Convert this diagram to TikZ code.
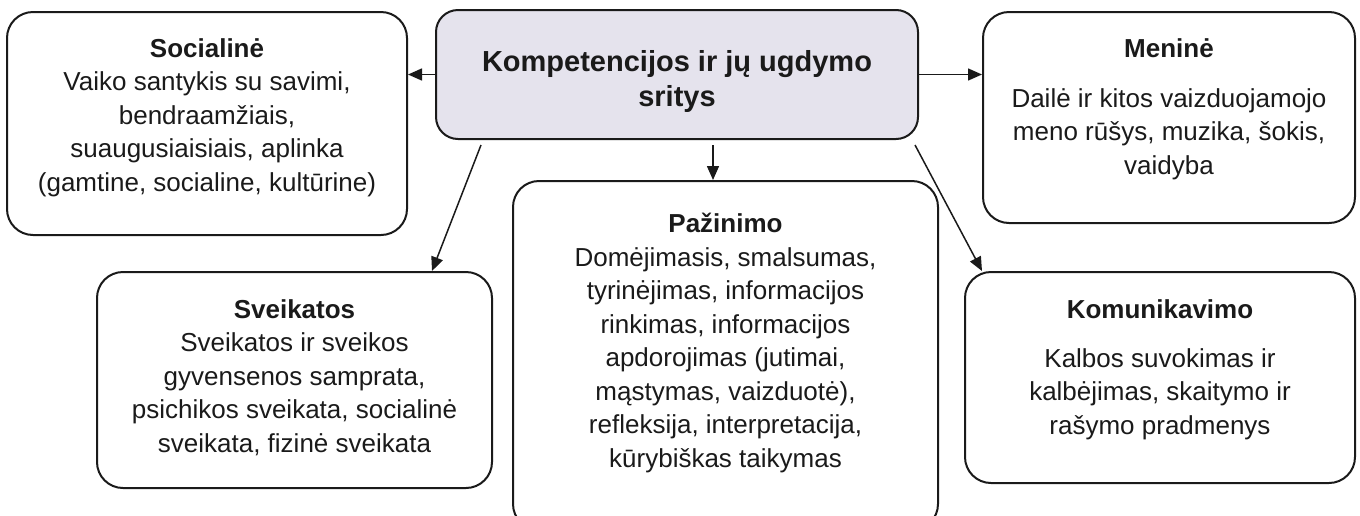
\documentclass[tikz,border=0pt]{standalone}
\usepackage{fontspec}
\setmainfont{Liberation Sans}
\usetikzlibrary{positioning,arrows.meta}
\definecolor{lavender}{HTML}{E5E3ED}
\definecolor{ink}{HTML}{1A1A1A}
\newcommand{\firstline}{\rule{0pt}{9pt}}

\begin{document}
\begin{tikzpicture}[
    x=0.5pt, y=-0.5pt,
    box/.style={%
      draw=ink,
      line width=1pt,
      rectangle,
      rounded corners=13pt,
      inner sep=0pt,
    },
    txt/.style={%
      align=center,
      inner sep=0pt,
      anchor=north,
      text=ink,
      font=\fontsize{13}{16.75}\selectfont,
    },
    head/.style={%
      txt,
      font=\fontsize{14.5}{17.5}\selectfont\bfseries,
    },
    arr/.style={%
      draw=ink,
      line width=0.75pt,
      -{Triangle[length=7pt,width=6pt]},
    },
  ]
    \useasboundingbox (0,0) rectangle (1360,515);
    \clip (0,0) rectangle (1360,515);

    \node [box, fill=lavender, rounded corners=11pt, minimum width=241pt, minimum height=64.5pt] (ctr) at (677,74.5) {};
    \node [box, minimum width=200pt, minimum height=111.5pt] (soc) at (207,123.5) {};
    \node [box, minimum width=186pt, minimum height=105.5pt] (men) at (1169,117.5) {};
    \node [box, minimum width=212.5pt, minimum height=174.5pt] (paz) at (725.5,355.5) {};
    \node [box, minimum width=197.5pt, minimum height=108pt] (sve) at (294.5,380) {};
    \node [box, minimum width=195pt, minimum height=105.5pt] (kom) at (1160,377.5) {};

    % first baselines: 56, 56, 231, 317, 317 (text tops 18 above)
    \node [head] (ctrT) at (677,50) {\rule{0pt}{10pt}Kompetencijos ir jų ugdymo\\sritys};
    \node [txt] (socT) at (207,38) {\firstline\textbf{Socialinė}\\Vaiko santykis su savimi,\\bendraamžiais,\\suaugusiaisiais, aplinka\\(gamtine, socialine, kultūrine)};
    \node [txt] (menT) at (1169,38) {\firstline\textbf{Meninė}\\[8.25pt]Dailė ir kitos vaizduojamojo\\meno rūšys, muzika, šokis,\\vaidyba};
    \node [txt] (pazT) at (725.5,213) {\firstline\textbf{Pažinimo}\\Domėjimasis, smalsumas,\\tyrinėjimas, informacijos\\rinkimas, informacijos\\apdorojimas (jutimai,\\mąstymas, vaizduotė),\\refleksija, interpretacija,\\kūrybiškas taikymas};
    \node [txt] (sveT) at (294.5,299) {\firstline\textbf{Sveikatos}\\Sveikatos ir sveikos\\gyvensenos samprata,\\psichikos sveikata, socialinė\\sveikata, fizinė sveikata};
    \node [txt] (komT) at (1160,299) {\firstline\textbf{Komunikavimo}\\[7.75pt]Kalbos suvokimas ir\\kalbėjimas, skaitymo ir\\rašymo pradmenys};

    \coordinate (dM) at (713,145);
    \coordinate (dL) at (481,145);
    \coordinate (eL) at (432,271);
    \coordinate (dR) at (915,145);
    \coordinate (eR) at (982,271);

    \draw [arr] (ctr.west) -- (ctr.west -| soc.east);
    \draw [arr] (ctr.east) -- (ctr.east -| men.west);
    \draw [arr] (dM) -- (dM |- paz.north);
    \draw [arr] (dL) -- (eL);
    \draw [arr] (dR) -- (eR);
\end{tikzpicture}
\end{document}
